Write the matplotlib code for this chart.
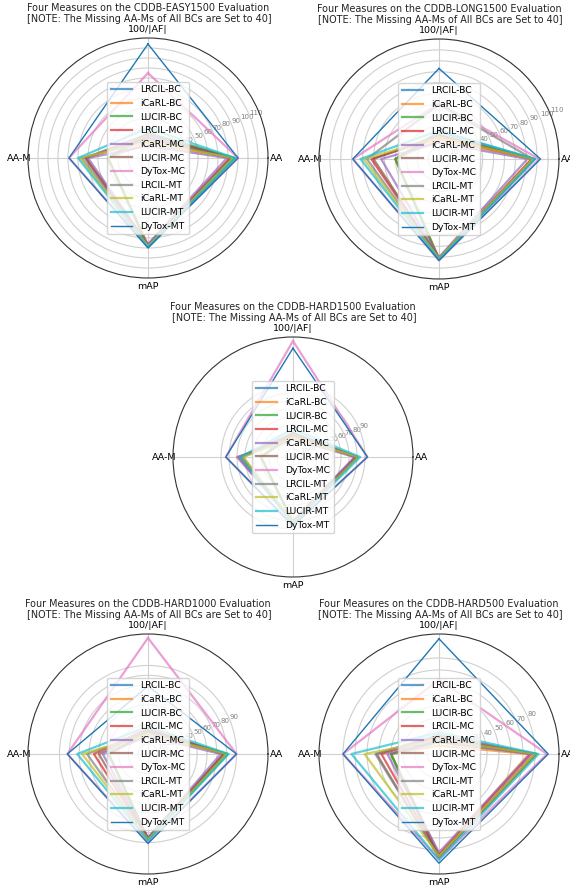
import numpy as np
import matplotlib
matplotlib.use('Agg')
import matplotlib.pyplot as plt

plt.rcParams['font.family'] = 'DejaVu Sans'

methods = ['LRCIL-BC', 'iCaRL-BC', 'LUCIR-BC', 'LRCIL-MC', 'iCaRL-MC', 'LUCIR-MC',
           'DyTox-MC', 'LRCIL-MT', 'iCaRL-MT', 'LUCIR-MT', 'DyTox-MT']
measures = ['100/|AF|', 'AA', 'mAP', 'AA-M']

# each row: [100/|AF|, AA, mAP, AA-M]
easy1500 = [[22, 86, 88, 40], [15, 84, 87, 40], [25, 87, 89, 40], [20, 82, 87, 62],
            [12, 79, 86, 60], [24, 83, 88, 63], [85, 90, 89, 79], [18, 84, 88, 66],
            [16, 85, 88, 68], [30, 87, 89, 70], [114, 90, 90, 79]]
long1500 = [[25, 88, 92, 40], [18, 85, 91, 40], [22, 87, 92, 40], [20, 85, 91, 62],
            [15, 81, 90, 53], [22, 86, 91, 60], [51, 92, 93, 79], [50, 86, 92, 66],
            [20, 86, 91, 69], [26, 88, 92, 72], [83, 93, 93, 79]]
hard1500 = [[30, 80, 82, 40], [25, 79, 81, 40], [28, 81, 82, 40], [27, 78, 81, 68],
            [22, 77, 80, 70], [30, 80, 82, 65], [145, 93, 86, 84], [28, 80, 82, 63],
            [24, 82, 82, 62], [35, 84, 84, 66], [136, 93, 86, 84]]
hard1000 = [[22, 80, 86, 40], [20, 79, 86, 40], [24, 81, 87, 40], [26, 77, 86, 55],
            [18, 74, 85, 46], [24, 77, 86, 50], [118, 90, 90, 82], [22, 79, 87, 62],
            [20, 80, 87, 67], [28, 82, 88, 72], [69, 90, 91, 82]]
hard500 = [[12, 80, 86, 40], [7, 75, 84, 40], [10, 81, 86, 40], [14, 77, 84, 48],
           [10, 76, 82, 43], [15, 81, 86, 52], [62, 90, 88, 80], [16, 80, 86, 53],
           [12, 80, 85, 62], [18, 83, 88, 73], [96, 91, 91, 80]]

names = ['CDDB-EASY1500', 'CDDB-LONG1500', 'CDDB-HARD1500', 'CDDB-HARD1000', 'CDDB-HARD500']
datasets = [easy1500, long1500, hard1500, hard1000, hard500]
rmaxs = [120, 110, 150, 122, 100]
rtick_tops = [110, 110, 90, 90, 80]

# centres of the five radar plots (pixels) and their radius
centres = [(148, 158), (439, 159), (293, 457), (148, 754), (439, 754)]
R = 120
W, H = 570, 888

fig = plt.figure(figsize=(W / 100, H / 100), dpi=100)

angles = np.array([np.pi / 2, 0, 3 * np.pi / 2, np.pi])
closed = np.append(angles, angles[0])

for k in range(5):
    cx, cy = centres[k]
    ax = fig.add_axes([(cx - R) / W, (H - cy - R) / H, 2 * R / W, 2 * R / H], projection='polar')
    vals = datasets[k]
    for i, m in enumerate(methods):
        v = np.append(vals[i], vals[i][0])
        if i < len(methods) - 1:
            ax.plot(closed, v, color='C%d' % (i % 10), lw=1.6, alpha=0.7, label=m)
        else:
            ax.plot(closed, v, color='C0', lw=1.0, label=m)
    ax.set_ylim(0, rmaxs[k])
    ax.set_yticks(np.arange(10, rtick_tops[k] + 1, 10))
    ax.set_rlabel_position(22.5)
    ax.tick_params(axis='y', labelsize=5, labelcolor='gray')
    ax.set_xticks(angles)
    ax.set_xticklabels(measures, fontsize=6.8)
    ax.tick_params(axis='x', pad=-4.5)
    ax.grid(color='#d0d0d0', lw=0.8)
    ax.spines['polar'].set_color('#333333')
    ax.spines['polar'].set_linewidth(0.8)
    ax.set_title('Four Measures on the %s Evaluation\n [NOTE: The Missing AA-Ms of All BCs are Set to 40]' % names[k],
                 fontsize=6.9, y=1.065, pad=0, color='#222222')
    ax.legend(loc='center', fontsize=6.7, handlelength=2.3, framealpha=0.8)

fig.savefig('out.png', dpi=100)
